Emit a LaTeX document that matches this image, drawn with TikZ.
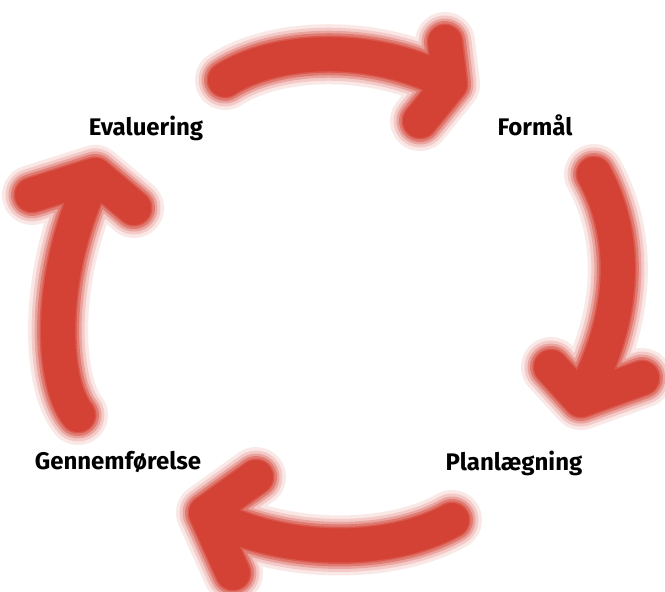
\documentclass[tikz,border=0pt]{standalone}
\usepackage{fontspec}
\setmainfont{Fira Sans}
\definecolor{arrred}{RGB}{212,66,54}
\tikzset{
  lbl/.style={font=\fontsize{24}{27}\selectfont\bfseries, text=black, inner sep=0pt, anchor=base},
  layer/.style={line cap=round, line join=round}
}
\newcommand{\halftonearrow}[2]{%
  \foreach \w/\c in {60/12, 53/28, 47/48, 42/70, 37/88, 34/100}{%
    \draw[layer, line width=\w pt, draw=arrred!\c] #1 #2;
  }%
}
\begin{document}
\begin{tikzpicture}[x=1pt,y=-1pt]
\useasboundingbox[fill=white] (0,0) rectangle (665,592);
% top arrow: Evaluering -> Formaal
\coordinate (t1) at (450,84);
\halftonearrow{(225,80) .. controls (280,45) and (380,45) .. (t1)}{(445,42) -- (t1) -- (420,121)}
% right arrow: Formaal -> Planlaegning
\coordinate (t2) at (581,400);
\halftonearrow{(594,174) .. controls (630,240) and (625,320) .. (t2)}{(551,367) -- (t2) -- (642,378)}
% bottom arrow: Planlaegning -> Gennemfoerelse
\coordinate (t3) at (206,513);
\halftonearrow{(452,520) .. controls (390,555) and (280,555) .. (t3)}{(256,477) -- (t3) -- (233,573)}
% left arrow: Gennemfoerelse -> Evaluering
\coordinate (t4) at (95,175);
\halftonearrow{(78,415) .. controls (50,380) and (48,270) .. (t4)}{(32,195) -- (t4) -- (134,208)}
\node[lbl] (eval) at (146,135) {Evaluering};
\node[lbl] (form) at (535,135) {Formål};
\node[lbl] (plan) at (514,470) {Planlægning};
\node[lbl] (genn) at (118,469) {Gennemførelse};
\end{tikzpicture}
\end{document}
